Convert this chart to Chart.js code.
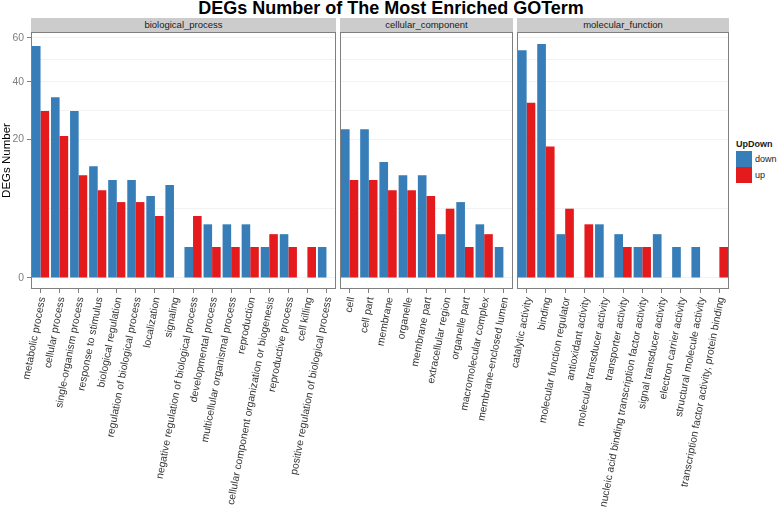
<!DOCTYPE html>
<html>
<head>
<meta charset="utf-8">
<script src="https://cdn.jsdelivr.net/npm/chart.js@4.4.1/dist/chart.umd.min.js"></script>
<style>
  body { margin: 0; background: #fff; font-family: "Liberation Sans", Arial, sans-serif; }
  #wrap { position: relative; width: 778px; height: 510px; overflow: hidden; }
  canvas { position: absolute; }
  .strip { position: absolute; top: 18px; height: 14px; line-height: 14px; background: #cccccc;
           color: #1a1a1a; font-size: 9.5px; text-align: center; }
  #title { position: absolute; left: 0; top: -1px; width: 782px; text-align: center;
           font-weight: bold; font-size: 18px; line-height: 18px; color: #000; }
  .lg { position: absolute; font-size: 9px; color: #1a1a1a; line-height: 16px; }
  .key { position: absolute; width: 16px; height: 16px; }
</style>
</head>
<body>
<div id="wrap">
  <div id="title">DEGs Number of The Most Enriched GOTerm</div>
  <div class="strip" style="left:31px;width:305px;">biological_process</div>
  <div class="strip" style="left:340px;width:173px;">cellular_component</div>
  <div class="strip" style="left:517px;width:212px;">molecular_function</div>
  <canvas id="bp"></canvas>
  <canvas id="cc"></canvas>
  <canvas id="mf"></canvas>
  <div class="lg" style="left:736px;top:136px;font-weight:bold;">UpDown</div>
  <div class="key" style="left:736px;top:151px;background:#377EB8;"></div>
  <div class="key" style="left:736px;top:167px;background:#E41A1C;"></div>
  <div class="lg" style="left:755px;top:151px;">down</div>
  <div class="lg" style="left:755px;top:167px;">up</div>
</div>
<script>
// biological_process
const bpTerms = ['metabolic process', 'cellular process', 'single-organism process', 'response to stimulus',
  'biological regulation', 'regulation of biological process', 'localization', 'signaling',
  'negative regulation of biological process', 'developmental process', 'multicellular organismal process',
  'reproduction', 'cellular component organization or biogenesis', 'reproductive process', 'cell killing',
  'positive regulation of biological process'];
const bpDown = [56, 34, 29, 13, 10, 10, 7, 9, 1, 3, 3, 3, 1, 2, null, 1];
const bpUp   = [29, 21, 11, 8, 6, 6, 4, null, 4, 1, 1, 1, 2, 1, 1, null];

// cellular_component
const ccTerms = ['cell', 'cell part', 'membrane', 'organelle', 'membrane part', 'extracellular region',
  'organelle part', 'macromolecular complex', 'membrane-enclosed lumen'];
const ccDown = [23, 23, 14, 11, 11, 2, 6, 3, 1];
const ccUp   = [10, 10, 8, 8, 7, 5, 1, 2, null];

// molecular_function
const mfTerms = ['catalytic activity', 'binding', 'molecular function regulator', 'antioxidant activity',
  'molecular transducer activity', 'transporter activity', 'nucleic acid binding transcription factor activity',
  'signal transducer activity', 'electron carrier activity', 'structural molecule activity',
  'transcription factor activity, protein binding'];
const mfDown = [54, 57, 2, null, 3, 2, 1, 2, 1, 1, null];
const mfUp   = [32, 18, 5, 3, null, 1, 1, null, null, null, 1];

const yTicks = [0, 20, 40, 60];
const yMin = -0.126, yMax = 63;

const sq = v => Math.sign(v) * Math.sqrt(Math.abs(v));

// sqrt scale like ggplot's scale_y_sqrt
class SqrtScale extends Chart.LinearScale {
  getPixelForValue(value) {
    if (value === null || isNaN(value)) return NaN;
    const a = sq(this.min), b = sq(this.max);
    return this.getPixelForDecimal((sq(value) - a) / (b - a));
  }
  getValueForPixel(pixel) {
    const a = sq(this.min), b = sq(this.max);
    const s = a + this.getDecimalForPixel(pixel) * (b - a);
    return Math.sign(s) * s * s;
  }
}
SqrtScale.id = 'sqrt';
SqrtScale.defaults = Chart.LinearScale.defaults;
Chart.register(SqrtScale);

// major lines plus minor lines halfway between them in sqrt space
const gridValues = [];
yTicks.forEach((v, i) => {
  gridValues.push(v);
  if (i < yTicks.length - 1) {
    const m = (Math.sqrt(v) + Math.sqrt(yTicks[i + 1])) / 2;
    gridValues.push(m * m);
  }
});

Chart.defaults.font.family = '"Liberation Sans", Arial, sans-serif';

const panelBorder = {
  id: 'panelBorder',
  afterDraw(chart) {
    const { ctx, chartArea: a } = chart;
    ctx.save();
    ctx.strokeStyle = '#7f7f7f';
    ctx.lineWidth = 1;
    ctx.strokeRect(a.left + 0.5, a.top + 0.5, a.right - a.left - 1, a.bottom - a.top - 1);
    ctx.restore();
  }
};

const panels = [
  { id: 'bp', terms: bpTerms, down: bpDown, up: bpUp, left: 31, right: 336, yw: 31, first: true },
  { id: 'cc', terms: ccTerms, down: ccDown, up: ccUp, left: 340, right: 513, yw: 28, first: false },
  { id: 'mf', terms: mfTerms, down: mfDown, up: mfUp, left: 517, right: 729, yw: 28, first: false }
];

const panelTop = 32, panelH = 257, canvasH = 478, rightPad = 6;

panels.forEach(p => {
  const cv = document.getElementById(p.id);
  const w = p.yw + (p.right - p.left) + rightPad;
  cv.width = w;
  cv.height = canvasH;
  cv.style.left = (p.left - p.yw) + 'px';
  cv.style.top = panelTop + 'px';

  new Chart(cv, {
    type: 'bar',
    data: {
      labels: p.terms,
      datasets: [
        { label: 'down', data: p.down, backgroundColor: '#377EB8' },
        { label: 'up', data: p.up, backgroundColor: '#E41A1C' }
      ]
    },
    options: {
      responsive: false,
      animation: false,
      devicePixelRatio: 1,
      layout: { padding: { left: 0, right: rightPad, top: 0, bottom: 0 } },
      datasets: { bar: { categoryPercentage: 0.9, barPercentage: 1.0, borderWidth: 0 } },
      plugins: { legend: { display: false }, tooltip: { enabled: false } },
      scales: {
        x: {
          type: 'category',
          offset: true,
          grid: { drawOnChartArea: false, offset: false, drawTicks: true, tickLength: 4, tickColor: '#7f7f7f' },
          border: { display: false },
          ticks: {
            autoSkip: false, minRotation: 79, maxRotation: 79, color: '#333',
            font: { size: 10.4 }, padding: 3, labelOffset: 2
          },
          afterFit: s => { s.height = canvasH - panelH; s.paddingLeft = 0; s.paddingRight = 0; }
        },
        y: {
          type: 'sqrt',
          min: yMin,
          max: yMax,
          bounds: 'data',
          afterBuildTicks: s => { s.ticks = gridValues.map(v => ({ value: v })); },
          afterFit: s => { s.width = p.yw; s.paddingTop = 0; s.paddingBottom = 0; },
          border: { display: false },
          grid: {
            color: '#f2f2f2',
            drawTicks: p.first,
            tickLength: 4,
            tickColor: ctx => yTicks.includes(ctx.tick.value) ? '#7f7f7f' : 'rgba(0,0,0,0)'
          },
          ticks: {
            display: p.first,
            autoSkip: false,
            color: '#7f7f7f',
            font: { size: 10.4 },
            padding: 3,
            callback: v => yTicks.includes(v) ? String(v) : ''
          },
          title: { display: p.first, text: 'DEGs Number', color: '#000', font: { size: 11.5 }, padding: 0 }
        }
      }
    },
    plugins: [panelBorder]
  });
});
</script>
</body>
</html>
